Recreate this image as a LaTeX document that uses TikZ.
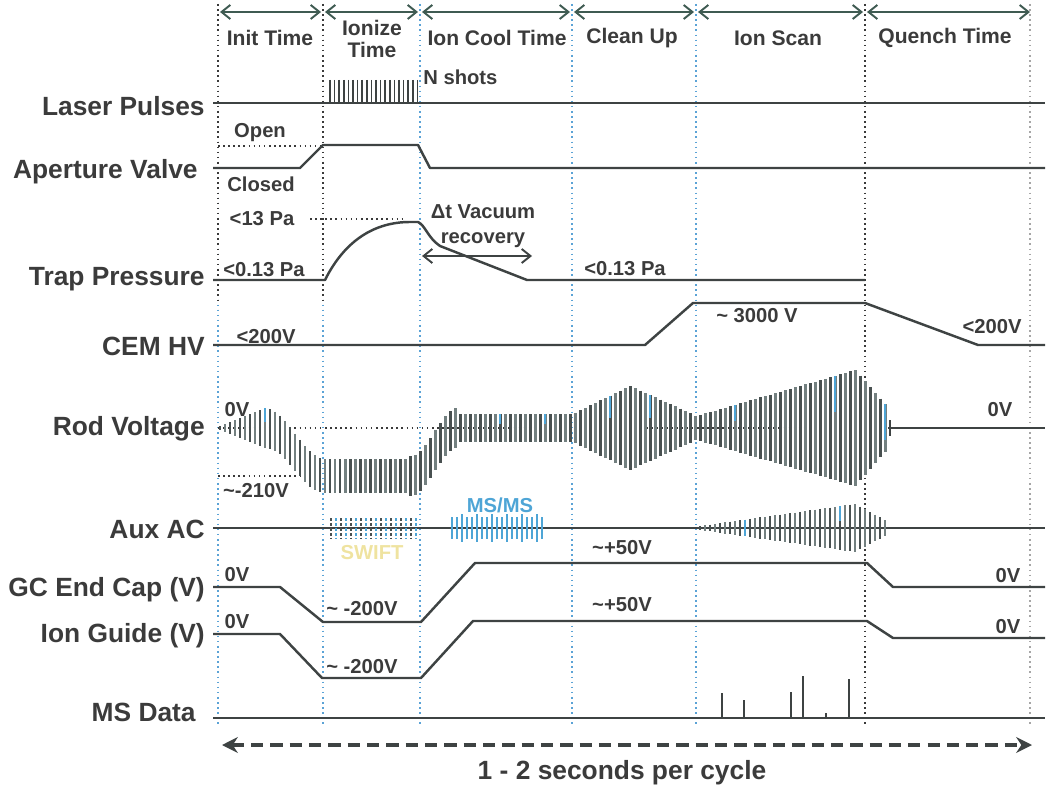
\documentclass[tikz,border=0pt]{standalone}
\usepackage{fontspec}
\setmainfont{Liberation Sans}
\usetikzlibrary{arrows.meta}
\definecolor{cTxt}{RGB}{59,59,59}
\definecolor{cSig}{RGB}{62,67,67}
\definecolor{cHdr}{RGB}{63,91,82}
\definecolor{cDivB}{RGB}{91,163,214}
\definecolor{cDivD}{RGB}{58,58,58}
\definecolor{cRodD}{RGB}{72,80,80}
\definecolor{cRodL}{RGB}{115,128,128}
\definecolor{cBlue}{RGB}{78,165,214}
\definecolor{cSwift}{RGB}{239,227,160}
\newcommand\myrodbar[4]{% x, center, amplitude, width
  \pgfmathtruncatemacro\myRbm{mod(round(#1),10)}%
  \ifnum\myRbm=0 \def\myBarCol{cRodD}\else\def\myBarCol{cRodL}\fi
  \draw[draw=\myBarCol, line width=#4] (#1,{#2-(#3)}) -- (#1,{#2+(#3)});%
}
\begin{document}
\begin{tikzpicture}[x=0.02cm,y=-0.02cm,
  rowlabel/.style={anchor=east, font=\bfseries\fontsize{15}{18}\selectfont, text=cTxt, inner sep=0pt},
  hdrlabel/.style={font=\bfseries\fontsize{12}{13}\selectfont, text=cTxt, inner sep=0pt, align=center},
  vlabel/.style={font=\bfseries\fontsize{11.5}{14}\selectfont, text=cTxt, inner sep=0pt, align=center},
  sigline/.style={draw=cSig, line width=1.4pt, line join=round},
  thinsig/.style={draw=cSig, line width=0.9pt},
  divider/.style={draw=cDivB, dotted, line width=0.9pt},
  darkdiv/.style={draw=cDivD, dotted, line width=0.9pt},
  refdot/.style={draw=cDivD, dotted, line width=0.9pt},
  hdrarrow/.style={draw=cHdr, line width=1.1pt, {Straight Barb[length=5pt,width=8pt]}-{Straight Barb[length=5pt,width=8pt]}},
  pulse/.style={draw=cSig, line width=1pt},
  peak/.style={draw=cSig, line width=1.1pt},
  bluebarstyle/.style={draw=cBlue, line width=1.4pt},
]
\useasboundingbox (0,0) rectangle (1050,793);

% ---- dividers ----
\foreach \xx in {218,323,420,572,696}
  {\draw[divider] (\xx,4) -- (\xx,726);}
\draw[darkdiv] (218,4) -- (218,300);
\draw[darkdiv] (323,4) -- (323,300);
\draw[darkdiv] (865,4) -- (865,726);
\draw[draw=gray!70, dotted, line width=0.9pt] (1030,4) -- (1030,726);

% ---- header arrows ----
\draw[hdrarrow] (220,12) -- (321,12);
\draw[hdrarrow] (325,12) -- (418,12);
\draw[hdrarrow] (422,12) -- (570,12);
\draw[hdrarrow] (574,12) -- (694,12);
\draw[hdrarrow] (698,12) -- (863,12);
\draw[hdrarrow] (867,12) -- (1030,12);

% ---- headers ----
\node[hdrlabel] (hInit) at (270,38) {Init Time};
\node[hdrlabel] (hIon) at (372,39) {Ionize\\Time};
\node[hdrlabel] (hCool) at (497,38) {Ion Cool Time};
\node[hdrlabel] (hClean) at (632,38) {Clean Up};
\node[hdrlabel] (hScan) at (778,38) {Ion Scan};
\node[hdrlabel] (hQuench) at (945,38) {Quench Time};

% ---- row labels ----
\node[rowlabel] (lLaser) at (205,106) {Laser Pulses};
\node[rowlabel] (lAper) at (198,172) {Aperture Valve};
\node[rowlabel] (lTrap) at (205,279) {Trap Pressure};
\node[rowlabel] (lCEM) at (205,346) {CEM HV};
\node[rowlabel] (lRod) at (205,429) {Rod Voltage};
\node[rowlabel] (lAux) at (205,529) {Aux AC};
\node[rowlabel] (lGC) at (205,590) {GC End Cap (V)};
\node[rowlabel] (lGuide) at (205,636) {Ion Guide (V)};
\node[rowlabel] (lMS) at (196,712) {MS Data};

% ---- Laser pulses ----
\draw[sigline] (213,103) -- (1045,103);
\foreach \xx in {330,334.6,...,419}
  {\draw[pulse] (\xx,80) -- (\xx,102);}
\node[vlabel, anchor=west] (nshots) at (423,77) {N shots};

% ---- Aperture valve ----
\draw[refdot] (218,146) -- (323,146);
\draw[sigline] (213,168) -- (300,168) -- (323,145) -- (418,145) -- (430,168) -- (1045,168);
\node[vlabel] (lOpen) at (260,133) {Open};
\node[vlabel] (lClosed) at (261,184) {Closed};

% ---- Trap pressure ----
\draw[refdot] (310,219) -- (405,219);
\draw[sigline] (213,280) -- (325,280) .. controls (345,240) and (375,222) .. (410,222) -- (418,222)
   .. controls (425,225) and (428,238) .. (440,246) -- (527,280) -- (865,280);
\node[vlabel] (l13) at (262,219) {<13 Pa};
\node[vlabel] (l013a) at (264,270) {<0.13 Pa};
\node[vlabel] (l013b) at (625,269) {<0.13 Pa};
\node[vlabel, font=\bfseries\fontsize{11.5}{14.5}\selectfont] (ldt) at (483,226) {Δt Vacuum\\recovery};
\draw[draw=cSig, line width=1.1pt, {Straight Barb[length=5pt,width=8pt]}-{Straight Barb[length=5pt,width=8pt]}] (422,256) -- (532,256);

% ---- CEM HV ----
\draw[sigline] (213,345) -- (645,345) -- (693,303) -- (865,303) -- (978,345) -- (1045,345);
\node[vlabel] (lc1) at (266,337) {<200V};
\node[vlabel] (lc2) at (757,316) {\textasciitilde{} 3000 V};
\node[vlabel] (lc3) at (992,327) {<200V};

% ---- Rod voltage ----
\draw[refdot] (218,428) -- (890,428);
\draw[refdot] (218,476) -- (323,476);
\foreach \xx in {220,225,...,260} {\myrodbar{\xx}{428}{2+(\xx-220)*0.4}{1.7pt}}
\foreach \xx in {265,270,...,320} {\myrodbar{\xx}{428+24*(1-cos((\xx-265)*3))}{20-(\xx-265)*0.05}{1.7pt}}
\foreach \xx in {325,330,...,405} {\myrodbar{\xx}{476}{17}{1.7pt}}
\foreach \xx in {410,415,...,455} {\myrodbar{\xx}{476-24*(1-cos((\xx-410)*3.75))}{20}{1.7pt}}
\foreach \xx in {460,465,...,570} {\myrodbar{\xx}{428}{14}{1.7pt}}
\foreach \xx in {575,580,...,625} {\myrodbar{\xx}{428}{14+(\xx-572)*28/58}{1.7pt}}
\foreach \xx in {630,635,...,695} {\myrodbar{\xx}{428}{42-(\xx-630)*30/66}{1.7pt}}
\foreach \xx in {700,705,...,850} {\myrodbar{\xx}{428}{12+(\xx-696)*46/159}{1.7pt}}
\foreach \xx in {855,860,...,885} {\myrodbar{\xx}{428}{58-(\xx-855)*40/35}{1.7pt}}
\draw[bluebarstyle] (265,408) -- (265,422);
\draw[bluebarstyle] (500,414) -- (500,424);
\draw[bluebarstyle] (545,414) -- (545,424);
\draw[bluebarstyle] (610,396) -- (610,418);
\draw[bluebarstyle] (650,395) -- (650,418);
\draw[bluebarstyle] (735,405) -- (735,421);
\draw[bluebarstyle] (835,376) -- (835,412);
\draw[bluebarstyle] (885,404) -- (885,440);
\draw[sigline] (888,428) -- (1045,428);
\draw[draw=cSig, line width=1.4pt] (890,420) -- (890,436);
\node[vlabel] (lr0a) at (237,410) {0V};
\node[vlabel] (lr0b) at (1000,410) {0V};
\node[vlabel] (lr210) at (256,491) {\textasciitilde-210V};

% ---- Aux AC ----
\draw[thinsig] (213,528) -- (890,528);
\draw[sigline] (888,528) -- (1045,528);
\foreach \xx [count=\i] in {331,336,...,418} {
  \ifodd\i \def\myBarCol{cRodD}\else\def\myBarCol{cBlue}\fi
  \draw[draw=\myBarCol, line width=0.8pt, dash pattern=on 1.6pt off 1.2pt] (\xx,518) -- (\xx,539);
}
\node[vlabel, text=cSwift] (lswift) at (372,553) {SWIFT};
\foreach \xx [count=\i] in {452,457,...,546} {
  \pgfmathtruncatemacro\myMm{mod(\i,3)}
  \ifnum\myMm=0 \def\myHh{14}\else\def\myHh{11}\fi
  \draw[bluebarstyle] (\xx,528-\myHh) -- (\xx,528+\myHh);
}
\node[vlabel, text=cBlue] (lmsms) at (500,505) {MS/MS};
\foreach \xx in {700,705,...,850} {\myrodbar{\xx}{528}{2+(\xx-700)*22/155}{1.5pt}}
\foreach \xx in {855,860,...,885} {\myrodbar{\xx}{528}{24-(\xx-855)*16/30}{1.5pt}}
\draw[bluebarstyle] (745,520) -- (745,536);
\draw[bluebarstyle] (840,506) -- (840,521);

% ---- GC End Cap ----
\draw[sigline] (213,587) -- (280,587) -- (323,622) -- (421,622) -- (475,563) -- (867,563) -- (893,587) -- (1045,587);
\node[vlabel] (lg0a) at (237,575) {0V};
\node[vlabel] (lg200) at (362,609) {\textasciitilde{} -200V};
\node[vlabel] (lg50) at (622,548) {\textasciitilde+50V};
\node[vlabel] (lg0b) at (1008,576) {0V};

% ---- Ion Guide ----
\draw[sigline] (213,634) -- (280,634) -- (322,678) -- (421,678) -- (473,621) -- (867,621) -- (893,638) -- (1045,638);
\node[vlabel] (li0a) at (237,622) {0V};
\node[vlabel] (li200) at (362,667) {\textasciitilde{} -200V};
\node[vlabel] (li50) at (622,605) {\textasciitilde+50V};
\node[vlabel] (li0b) at (1008,627) {0V};

% ---- MS Data ----
\draw[sigline] (213,718) -- (1045,718);
\draw[peak] (722,718) -- (722,693);
\draw[peak] (744,718) -- (744,700);
\draw[peak] (791,718) -- (791,692);
\draw[peak] (803,718) -- (803,676);
\draw[peak] (826,718) -- (826,713);
\draw[peak] (849,718) -- (849,679);

% ---- cycle arrow ----
\coordinate (cycL) at (222,745);
\coordinate (cycR) at (1032,745);
\draw[draw=cSig, line width=1.8pt, dash pattern=on 7pt off 4pt, {Stealth[length=9pt,width=9pt]}-{Stealth[length=9pt,width=9pt]}] (cycL) -- (cycR);
\node[font=\bfseries\fontsize{15}{18}\selectfont, text=cTxt, inner sep=0pt] (lcycle) at (622,773) {1 - 2 seconds per cycle};
\end{tikzpicture}
\end{document}
